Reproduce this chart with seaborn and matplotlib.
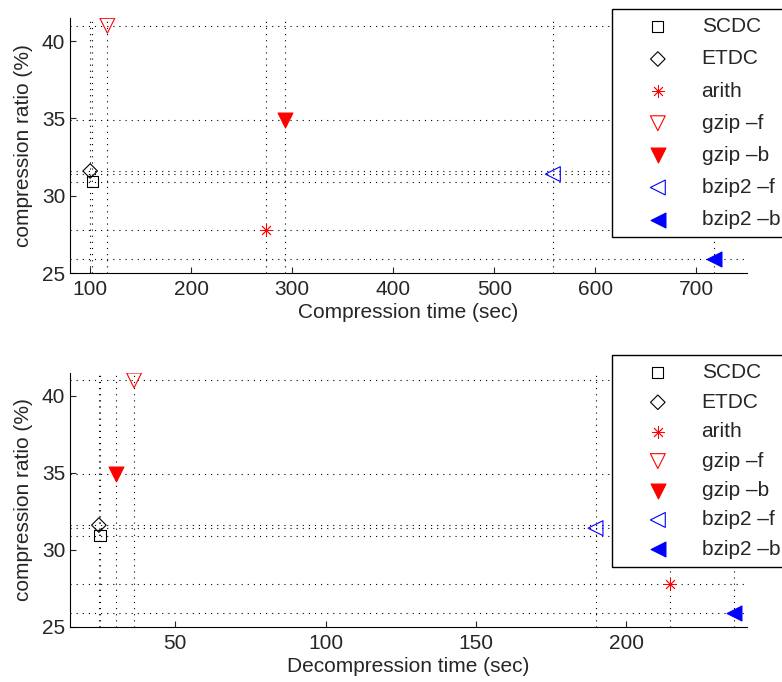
import matplotlib
matplotlib.use("Agg")
import matplotlib.pyplot as plt
import seaborn as sns

names = ["SCDC", "ETDC", "arith", "gzip \u2013f", "gzip \u2013b", "bzip2 \u2013f", "bzip2 \u2013b"]
ratio = [30.9, 31.6, 27.8, 41.0, 34.9, 31.4, 25.9]
comp_time = [102, 100, 274, 117, 293, 558, 718]
decomp_time = [25.0, 24.6, 214.4, 36.3, 30.4, 189.7, 235.6]

comp_ticks = [100, 200, 300, 400, 500, 600, 700]
decomp_ticks = [50, 100, 150, 200]
ratio_ticks = [25, 30, 35, 40]

markers = ["s", "D", (8, 2, 0), "v", "v", "<", "<"]
colors = ["k", "k", "r", "r", "r", "b", "b"]
filled = [False, False, True, False, True, False, True]
sizes = [65, 55, 75, 115, 115, 115, 115]

sns.set_style("ticks")
plt.rcParams['font.family'] = ['Liberation Sans', 'DejaVu Sans']
plt.rcParams['font.size'] = 15
plt.rcParams['xtick.direction'] = 'in'
plt.rcParams['ytick.direction'] = 'in'
plt.rcParams['xtick.major.size'] = 4
plt.rcParams['ytick.major.size'] = 4
plt.rcParams['xtick.major.pad'] = 5
plt.rcParams['axes.linewidth'] = 0.8
plt.rcParams['axes.edgecolor'] = 'black'

fig = plt.figure(figsize=(7.82, 6.82), dpi=100)
ax1 = fig.add_axes([0.0895, 0.5997, 0.8655, 0.3739])
ax2 = fig.add_axes([0.0895, 0.0811, 0.8655, 0.3724])


def panel(ax, xs, xlim, xticks, xlabel, leg_top, spacing):
	for x, y in zip(xs, ratio):
		ax.axvline(x, color='k', lw=0.8, ls=(0, (1, 4.5)), zorder=1)
		ax.axhline(y, color='k', lw=0.8, ls=(0, (1, 4.5)), zorder=1)
	for i in range(len(names)):
		if markers[i] == (8, 2, 0):
			sns.scatterplot(x=[xs[i]], y=[ratio[i]], marker=markers[i], s=sizes[i],
			                color=colors[i], linewidth=0.6, ax=ax, label=names[i], zorder=3)
		elif filled[i]:
			sns.scatterplot(x=[xs[i]], y=[ratio[i]], marker=markers[i], s=sizes[i],
			                color=colors[i], edgecolor=colors[i], linewidth=0.8,
			                ax=ax, label=names[i], zorder=3)
		else:
			sns.scatterplot(x=[xs[i]], y=[ratio[i]], marker=markers[i], s=sizes[i],
			                facecolor='none', edgecolor=colors[i], linewidth=0.8,
			                ax=ax, label=names[i], zorder=3)
	ax.set_xlim(*xlim)
	ax.set_ylim(25, 41.5)
	ax.set_xticks(xticks)
	ax.set_yticks(ratio_ticks)
	ax.set_xlabel(xlabel, labelpad=3)
	ax.set_ylabel("compression ratio (%)", labelpad=6)
	sns.despine(ax=ax)
	leg = ax.legend(loc='upper left', bbox_to_anchor=(612 / 782, leg_top),
	                bbox_transform=fig.transFigure, fontsize=15, frameon=True,
	                fancybox=False, edgecolor='k', framealpha=1, borderpad=0.4,
	                borderaxespad=0, labelspacing=spacing, handlelength=3.6,
	                handletextpad=0.3, scatterpoints=1)
	leg.get_frame().set_linewidth(1.0)
	leg.set_zorder(5)


panel(ax1, comp_time, (80, 750), comp_ticks, "Compression time (sec)", 1 - 9 / 682, 0.63)
panel(ax2, decomp_time, (15, 240), decomp_ticks, "Decompression time (sec)", 1 - 355 / 682, 0.5)

fig.savefig("out.png", dpi=100)
